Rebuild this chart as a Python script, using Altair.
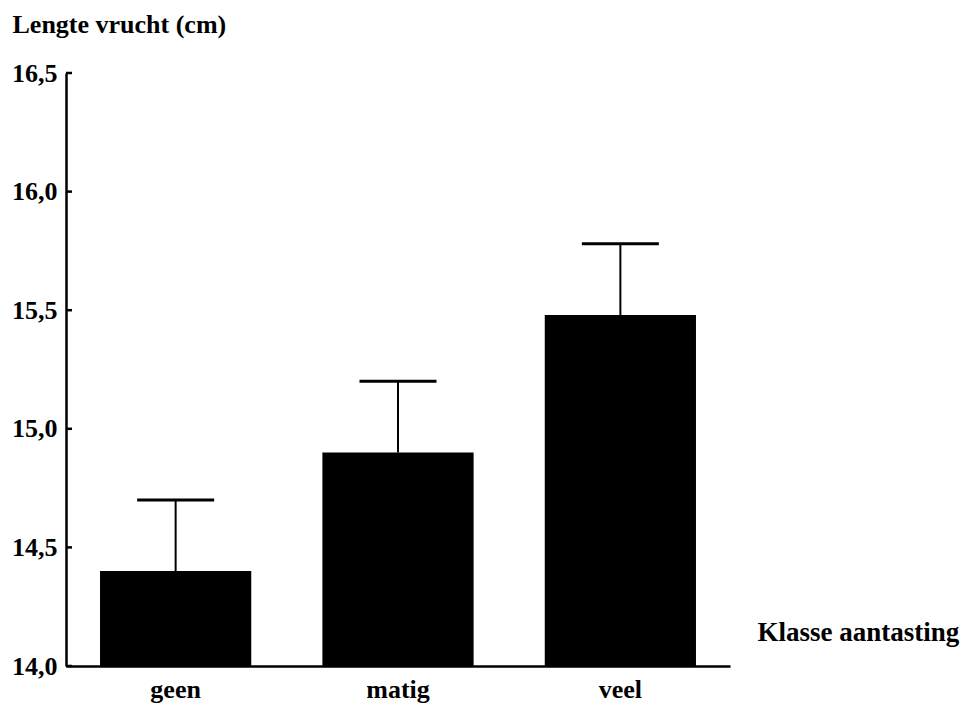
import altair as alt
import pandas as pd

# Mean fruit length per infestation class, with the upper error bar
klasse = ["geen", "matig", "veel"]
lengte = [14.40, 14.90, 15.48]
boven = [14.70, 15.20, 15.78]
y_ticks = [14.0, 14.5, 15.0, 15.5, 16.0, 16.5]

FONT = "Liberation Serif"

df = pd.DataFrame({"klasse": klasse, "lengte": lengte, "boven": boven})
ticks_df = pd.DataFrame({"lengte": y_ticks})

x_enc = alt.X(
    "klasse:N",
    sort=klasse,
    scale=alt.Scale(paddingInner=0.32, paddingOuter=0.153),
    axis=alt.Axis(
        title="Klasse aantasting",
        titleAngle=0,
        titleAlign="left",
        titleBaseline="middle",
        titleX=691,
        titleY=-34,
        titleFont=FONT,
        titleFontSize=27,
        titleFontWeight="bold",
        titleColor="black",
        labelFont=FONT,
        labelFontSize=26,
        labelFontWeight="bold",
        labelColor="black",
        labelAngle=0,
        labelPadding=10,
        ticks=False,
        domainColor="black",
        domainWidth=2.5,
    ),
)

y_scale = alt.Scale(domain=[14, 16.5], nice=False, zero=False)
y_axis = alt.Axis(
    title="Lengte vrucht (cm)",
    titleAngle=0,
    titleAlign="left",
    titleBaseline="alphabetic",
    titleX=-54,
    titleY=-41,
    titleFont=FONT,
    titleFontSize=26,
    titleFontWeight="bold",
    titleColor="black",
    values=y_ticks,
    labelExpr="replace(format(datum.value, '.1f'), '.', ',')",
    labelFont=FONT,
    labelFontSize=26,
    labelFontWeight="bold",
    labelColor="black",
    labelPadding=9,
    ticks=False,
    grid=False,
    domainColor="black",
    domainWidth=2.5,
)

bars = alt.Chart(df).mark_bar(color="black").encode(
    x=x_enc,
    y=alt.Y("lengte:Q", scale=y_scale, axis=y_axis),
    y2=alt.datum(14),
)

whisker = alt.Chart(df).mark_rule(color="black", strokeWidth=2).encode(
    x=alt.X("klasse:N", sort=klasse),
    y=alt.Y("lengte:Q"),
    y2="boven:Q",
)

caps = alt.Chart(df).mark_tick(color="black", opacity=1, size=77, thickness=3).encode(
    x=alt.X("klasse:N", sort=klasse),
    y=alt.Y("boven:Q"),
)

# inward tick marks on the value axis
inner_ticks = alt.Chart(ticks_df).mark_rule(color="black", strokeWidth=2.5).encode(
    y=alt.Y("lengte:Q"),
    x=alt.value(0),
    x2=alt.value(6),
)

chart = (
    alt.layer(bars, whisker, caps, inner_ticks)
    .properties(
        width=664,
        height=593,
        autosize=alt.AutoSizeParams(type="none"),
        padding={"left": 66, "top": 73, "right": 236, "bottom": 47},
        background="white",
    )
    .configure_view(stroke=None)
)

chart.save("out.html", embed_options={"renderer": "svg", "actions": False})
